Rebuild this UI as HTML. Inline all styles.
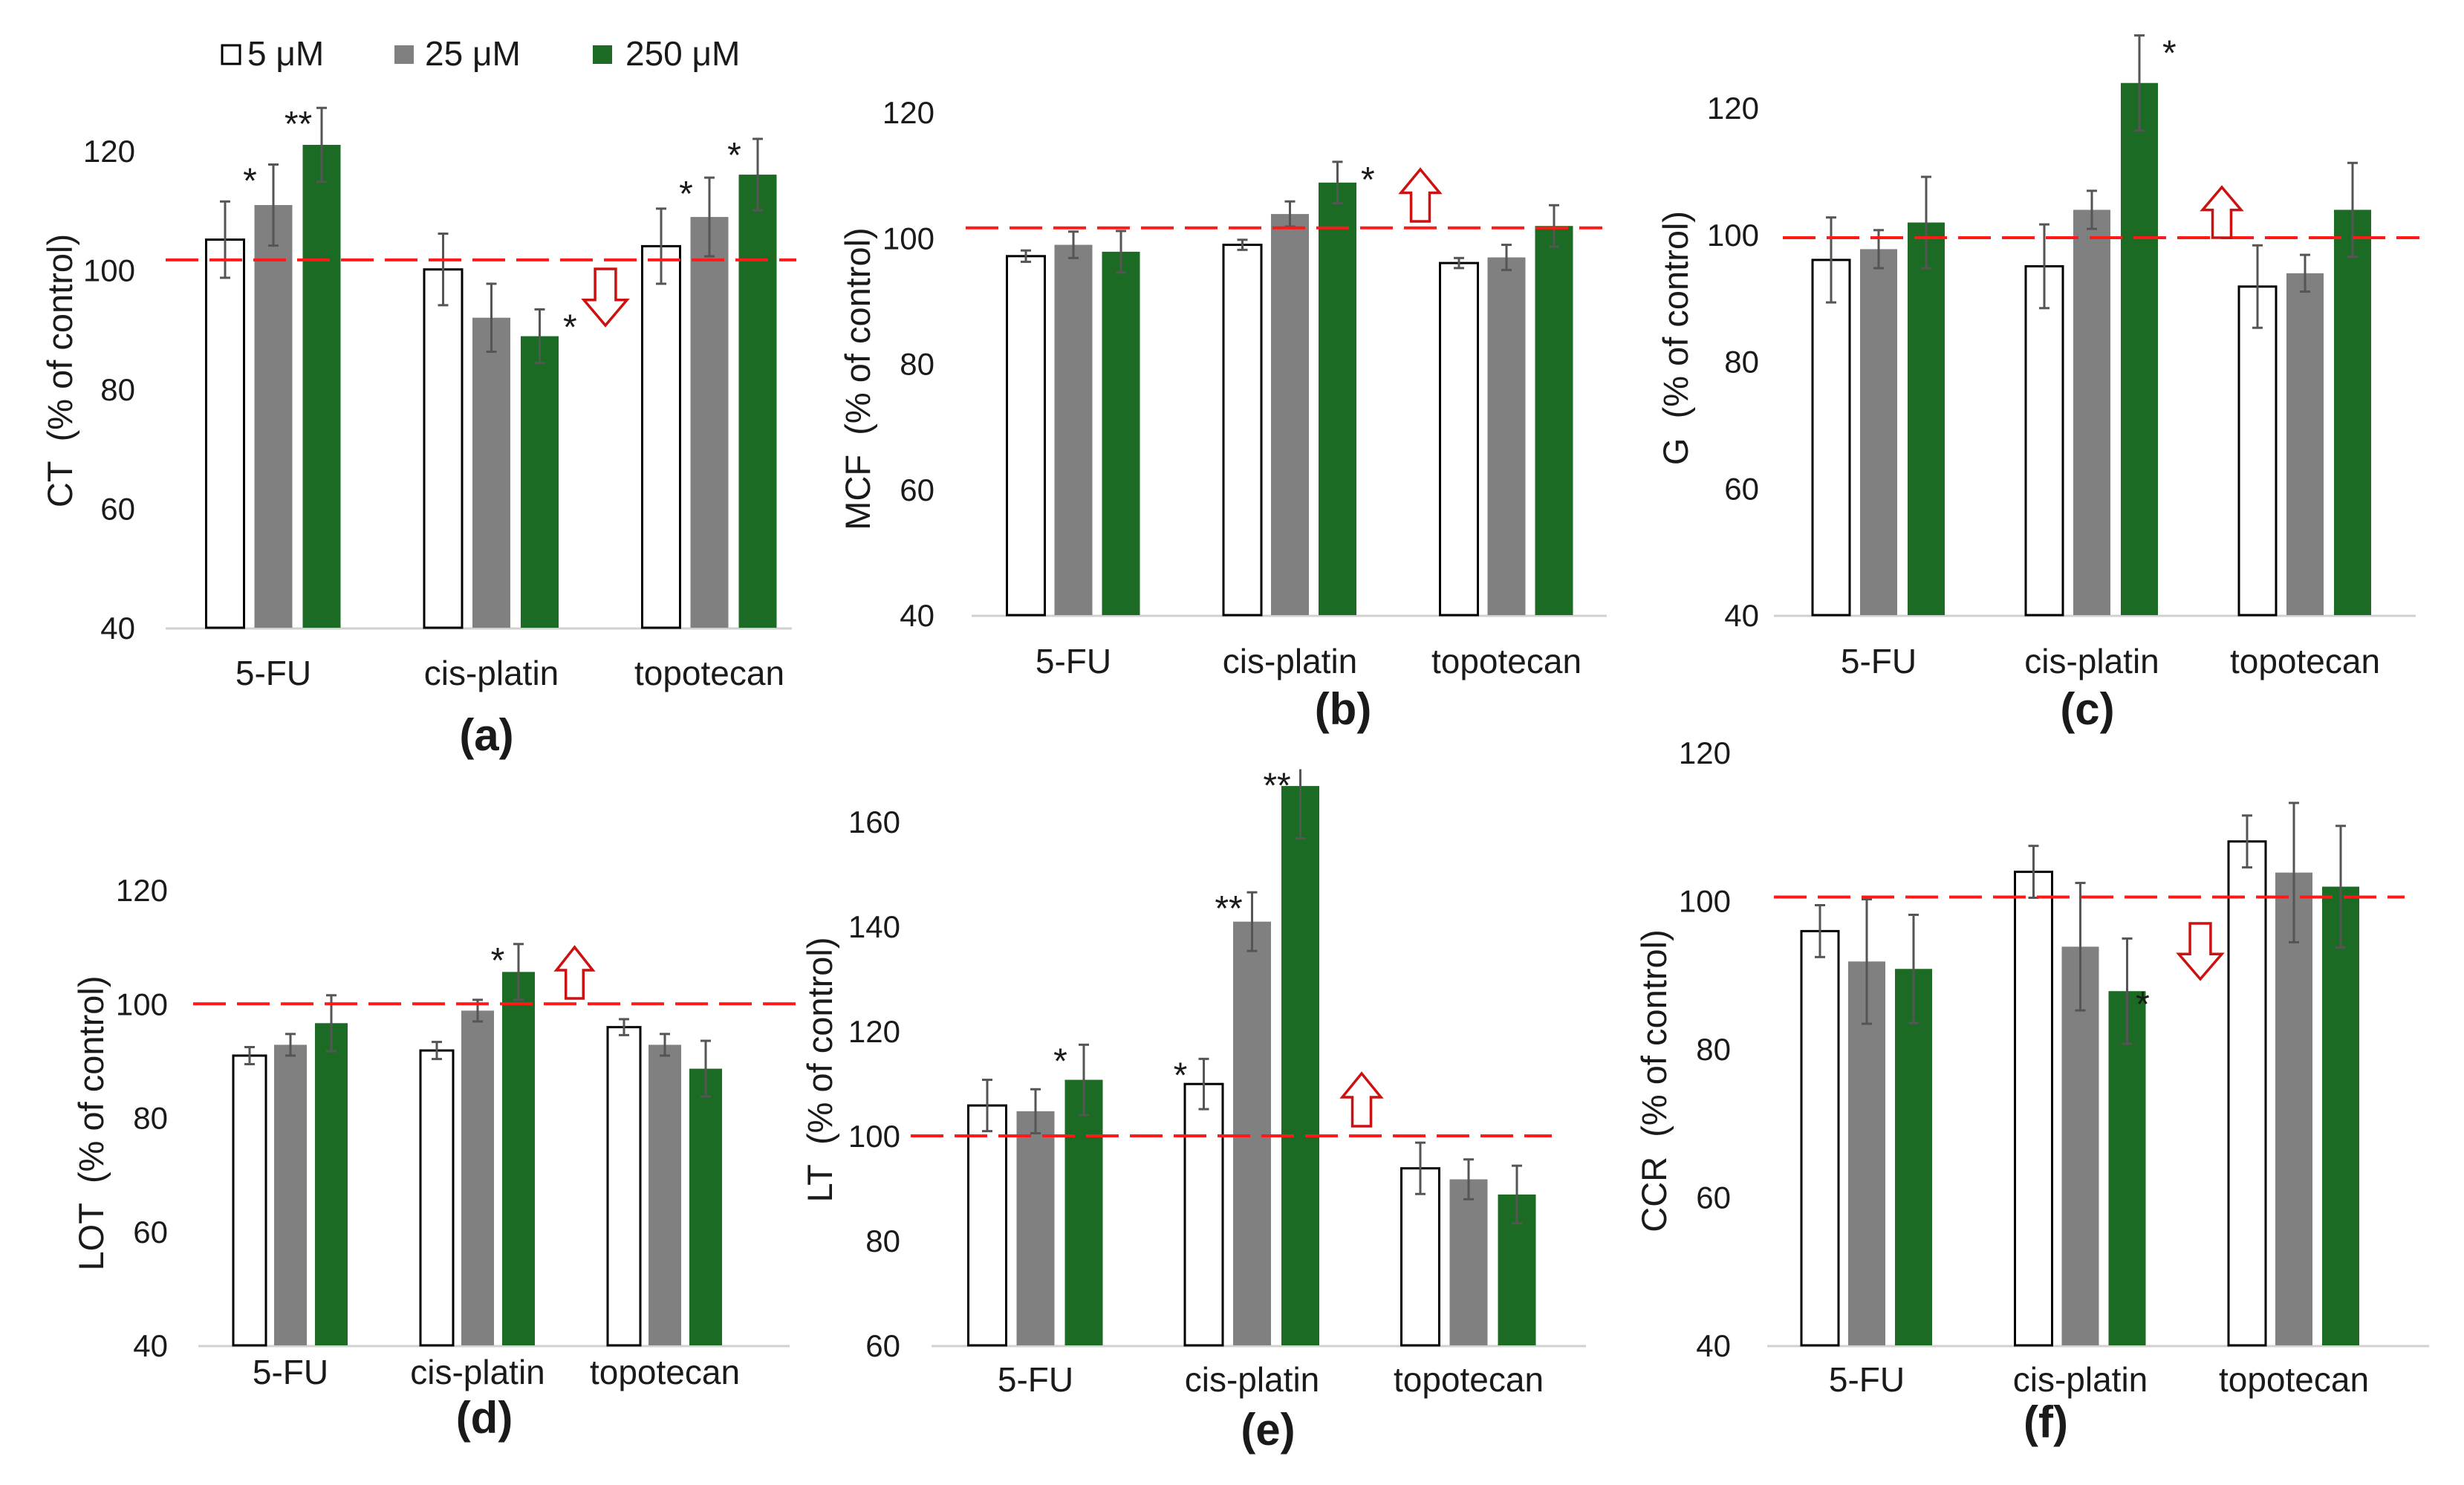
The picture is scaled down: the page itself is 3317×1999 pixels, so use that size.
<!DOCTYPE html>
<html><head><meta charset="utf-8"><style>
html,body{margin:0;padding:0;background:#fff}
svg{display:block}
text{font-family:"Liberation Sans",Arial,sans-serif;fill:#1a1a1a}
</style></head><body>
<svg id="fig" width="3317" height="1999" viewBox="0 0 3317 1999" xmlns="http://www.w3.org/2000/svg">
<rect x="0" y="0" width="3317" height="1999" fill="#fff"/>
<g id="legend">
  <g><rect x="299" y="61" width="24" height="25" fill="#fff" stroke="#000" stroke-width="3"/><text x="333" y="88" font-size="46">5 μM</text></g>
  <g><rect x="531" y="61" width="26" height="25" fill="#808080"/><text x="572" y="88" font-size="46">25 μM</text></g>
  <g><rect x="798" y="61" width="26" height="25" fill="#1b6b24"/><text x="842" y="88" font-size="46">250 μM</text></g>
</g>
</svg>
<script>
const categories = ["5-FU", "cis-platin", "topotecan"];
const seriesNames = ["5 μM", "25 μM", "250 μM"];
// (a) CT
const ctValues5 = [105.1, 100.1, 104.0];
const ctValues25 = [110.9, 92.0, 108.9];
const ctValues250 = [121.0, 88.9, 116.0];
const ctErr5 = [6.4, 6.0, 6.3];
const ctErr25 = [6.8, 5.7, 6.6];
const ctErr250 = [6.2, 4.5, 6.0];
// (b) MCF
const mcfValues5 = [97.1, 98.9, 96.0];
const mcfValues25 = [98.9, 103.8, 96.9];
const mcfValues250 = [97.8, 108.8, 101.9];
const mcfErr5 = [0.9, 0.8, 0.8];
const mcfErr25 = [2.1, 2.0, 2.0];
const mcfErr250 = [3.3, 3.3, 3.3];
// (c) G
const gValues5 = [96.0, 95.0, 91.8];
const gValues25 = [97.7, 103.9, 93.9];
const gValues250 = [101.9, 123.9, 103.9];
const gErr5 = [6.7, 6.6, 6.5];
const gErr25 = [3.0, 3.0, 2.9];
const gErr250 = [7.2, 7.5, 7.4];
// (d) LOT
const lotValues5 = [90.9, 91.8, 95.9];
const lotValues25 = [92.8, 98.8, 92.8];
const lotValues250 = [96.6, 105.6, 88.6];
const lotErr5 = [1.5, 1.5, 1.4];
const lotErr25 = [1.9, 1.9, 1.9];
const lotErr250 = [4.9, 4.9, 4.9];
// (e) LT
const ltValues5 = [105.8, 109.9, 93.8];
const ltValues25 = [104.7, 140.9, 91.7];
const ltValues250 = [110.7, 166.8, 88.8];
const ltErr5 = [4.9, 4.8, 4.9];
const ltErr25 = [4.2, 5.6, 3.8];
const ltErr250 = [6.7, 10.0, 5.5];
// (f) CCR
const ccrValues5 = [95.9, 103.9, 108.0];
const ccrValues25 = [91.8, 93.8, 103.8];
const ccrValues250 = [90.8, 87.8, 101.9];
const ccrErr5 = [3.5, 3.5, 3.5];
const ccrErr25 = [8.4, 8.6, 9.4];
const ccrErr250 = [7.3, 7.1, 8.2];
// reference lines
const refValues = [101.7, 101.6, 99.5, 100.0, 100.0, 100.5];
const ticksA = [40, 60, 80, 100, 120];
const ticksE = [60, 80, 100, 120, 140, 160];

const NS = "http://www.w3.org/2000/svg";
const svg = document.getElementById('fig');
const colors = ["#ffffff", "#808080", "#1b6b24"];
function mk(tag, attrs, parent) {
  const e = document.createElementNS(NS, tag);
  for (const k in attrs) e.setAttribute(k, attrs[k]);
  (parent || svg).appendChild(e);
  return e;
}

const panels = [
  {id:"a", title:"CT\u00a0\u00a0(% of control)", vals:[ctValues5,ctValues25,ctValues250], errs:[ctErr5,ctErr25,ctErr250],
   vmin:40, vmax:120, yBase:845, yMax:203, c0:368, band:293.5, bw:51, pitch:65, ax0:223, ax1:1066, tickR:182, ticks:ticksA,
   d0:223, d1:1072, catY:922, titleX:81, titleY:499, lab:[655,1010], arrow:{x:786,y:362,w:58,h:76,dir:"down"},
   stars:[{c:0,s:1,t:"*",side:"L"},{c:0,s:2,t:"**",side:"L"},{c:1,s:2,t:"*",side:"R"},{c:2,s:1,t:"*",side:"L"},{c:2,s:2,t:"*",side:"L"}]},
  {id:"b", title:"MCF\u00a0\u00a0(% of control)", vals:[mcfValues5,mcfValues25,mcfValues250], errs:[mcfErr5,mcfErr25,mcfErr250],
   vmin:40, vmax:120, yBase:828, yMax:151, c0:1445, band:291.5, bw:51, pitch:64, ax0:1308, ax1:2163, tickR:1258, ticks:ticksA,
   d0:1300, d1:2157, catY:906, titleX:1155, titleY:510, lab:[1808,975], arrow:{x:1886,y:228,w:52,h:70,dir:"up"},
   stars:[{c:1,s:2,t:"*",side:"R"}]},
  {id:"c", title:"G\u00a0\u00a0(% of control)", vals:[gValues5,gValues25,gValues250], errs:[gErr5,gErr25,gErr250],
   vmin:40, vmax:120, yBase:828, yMax:145, c0:2529, band:287, bw:50, pitch:64, ax0:2388, ax1:3252, tickR:2368, ticks:ticksA,
   d0:2400, d1:3257, catY:906, titleX:2256, titleY:455, lab:[2810,975], arrow:{x:2965,y:252,w:52,h:68,dir:"up"},
   stars:[{c:1,s:2,t:"*",side:"R"}]},
  {id:"d", title:"LOT\u00a0\u00a0(% of control)", vals:[lotValues5,lotValues25,lotValues250], errs:[lotErr5,lotErr25,lotErr250],
   vmin:40, vmax:120, yBase:1811, yMax:1198, c0:391, band:252, bw:44, pitch:55, ax0:267, ax1:1063, tickR:226, ticks:ticksA,
   d0:260, d1:1082, catY:1863, titleX:123, titleY:1512, lab:[652,1929], arrow:{x:749,y:1275,w:49,h:69,dir:"up"},
   stars:[{c:1,s:2,t:"*",side:"L"}]},
  {id:"e", title:"LT\u00a0\u00a0(% of control)", vals:[ltValues5,ltValues25,ltValues250], errs:[ltErr5,ltErr25,ltErr250],
   vmin:60, vmax:160, yBase:1811, yMax:1106, c0:1394, band:291.5, bw:51, pitch:65, ax0:1254, ax1:2135, tickR:1212, ticks:ticksE,
   d0:1226, d1:2089, catY:1873, titleX:1104, titleY:1440, lab:[1707,1945], arrow:{x:1807,y:1445,w:52,h:71,dir:"up"}, clip:170,
   stars:[{c:0,s:2,t:"*",side:"L"},{c:1,s:0,t:"*",side:"L"},{c:1,s:1,t:"**",side:"L"},{c:1,s:2,t:"**",side:"L"}]},
  {id:"f", title:"CCR\u00a0\u00a0(% of control)", vals:[ccrValues5,ccrValues25,ccrValues250], errs:[ccrErr5,ccrErr25,ccrErr250],
   vmin:40, vmax:120, yBase:1811, yMax:1013, c0:2513, band:287.5, bw:50, pitch:63, ax0:2379, ax1:3270, tickR:2330, ticks:ticksA,
   d0:2388, d1:3237, catY:1873, titleX:2227, titleY:1455, lab:[2754,1935], arrow:{x:2933,y:1243,w:58,h:75,dir:"down"},
   stars:[{c:1,s:2,t:"*",side:"T"}]}
];

panels.forEach((p, pi) => {
  const g = mk('g', {});
  
  
  const y = v => p.yBase - (v - p.vmin) * (p.yBase - p.yMax) / (p.ticks[p.ticks.length-1] - p.vmin);
  const xc = (ci, si) => p.c0 + ci * p.band + (si - 1) * p.pitch;
  p.ticks.forEach(t => {
    const tx = mk('text', {x:p.tickR, y:y(t)+15, 'font-size':42, 'text-anchor':'end'}, g);
    
    
    tx.textContent = t;
  });
  const ax = mk('line', {x1:p.ax0, x2:p.ax1, y1:p.yBase+1, y2:p.yBase+1, stroke:'#d0d0d0', 'stroke-width':3}, g);
  
  
  for (let si = 0; si < 3; si++) {
    for (let ci = 0; ci < 3; ci++) {
      const v = p.vals[si][ci];
      const cx = xc(ci, si);
      const top = y(v);
      const r = mk('rect', {x:cx - p.bw/2, y:top, width:p.bw, height:p.yBase - top, fill:colors[si]}, g);
      if (si === 0) { r.setAttribute('stroke', '#000'); r.setAttribute('stroke-width', 3); }
      
      
    }
  }
  for (let si = 0; si < 3; si++) {
    for (let ci = 0; ci < 3; ci++) {
      const v = p.vals[si][ci], e = p.errs[si][ci];
      const cx = xc(ci, si);
      let hi = v + e; const capTop = !(p.clip && hi > p.clip);
      if (!capTop) hi = p.clip;
      const eg = mk('g', {stroke:'#555', 'stroke-width':3}, g);
      
      
      mk('line', {x1:cx, x2:cx, y1:y(hi), y2:y(v - e)}, eg);
      if (capTop) mk('line', {x1:cx-7, x2:cx+7, y1:y(hi), y2:y(hi)}, eg);
      mk('line', {x1:cx-7, x2:cx+7, y1:y(v-e), y2:y(v-e)}, eg);
    }
  }
  const dl = mk('line', {x1:p.d0, x2:p.d1, y1:y(refValues[pi]), y2:y(refValues[pi]), stroke:'#ff1a1a', 'stroke-width':4, 'stroke-dasharray':'44 15'}, g);
  
  
  p.stars.forEach(s => {
    const v = p.vals[s.s][s.c], e = p.errs[s.s][s.c];
    let hi = v + e; if (p.clip && hi > p.clip) hi = p.clip;
    const cx = xc(s.c, s.s);
    let sx, sy, anchor;
    if (s.side === "L") { sx = cx - p.bw/2 - 6; sy = y(hi) + 12; anchor = 'middle'; }
    else if (s.side === "T") { sx = cx + p.bw/2 - 4; sy = y(v) + 8; anchor = 'middle'; }
    else { sx = cx + p.bw/2 + 6; sy = y(hi) + 14; anchor = 'start'; }
    const st = mk('text', {x:sx, y:sy + 26, 'font-size':48, 'text-anchor':anchor, fill:'#111'}, g);
    
    
    st.textContent = s.t;
  });
  const a = p.arrow;
  const sw = a.w * 0.48, hh = a.h * 0.45;
  let pts;
  if (a.dir === "down") {
    pts = [[a.x + (a.w-sw)/2, a.y],[a.x + (a.w+sw)/2, a.y],[a.x + (a.w+sw)/2, a.y + a.h - hh],[a.x + a.w, a.y + a.h - hh],[a.x + a.w/2, a.y + a.h],[a.x, a.y + a.h - hh],[a.x + (a.w-sw)/2, a.y + a.h - hh]];
  } else {
    pts = [[a.x + (a.w-sw)/2, a.y + a.h],[a.x + (a.w+sw)/2, a.y + a.h],[a.x + (a.w+sw)/2, a.y + hh],[a.x + a.w, a.y + hh],[a.x + a.w/2, a.y],[a.x, a.y + hh],[a.x + (a.w-sw)/2, a.y + hh]];
  }
  const ar = mk('polygon', {points: pts.map(q => q.join(',')).join(' '), fill:'#fff', stroke:'#cc1111', 'stroke-width':3.5}, g);
  
  
  categories.forEach((c, ci) => {
    const t = mk('text', {x:xc(ci, 1), y:p.catY, 'font-size':46, 'text-anchor':'middle'}, g);
    
    
    t.textContent = c;
  });
  const yt = mk('text', {x:0, y:0, 'font-size':47, 'text-anchor':'middle', transform:`translate(${p.titleX + 16},${p.titleY}) rotate(-90)`}, g);
  
  
  yt.textContent = p.title;
  const pl = mk('text', {x:p.lab[0], y:p.lab[1], 'font-size':60, 'font-weight':'bold', 'text-anchor':'middle'}, g);
  
  
  pl.textContent = '(' + p.id + ')';
});
</script>
</body></html>
